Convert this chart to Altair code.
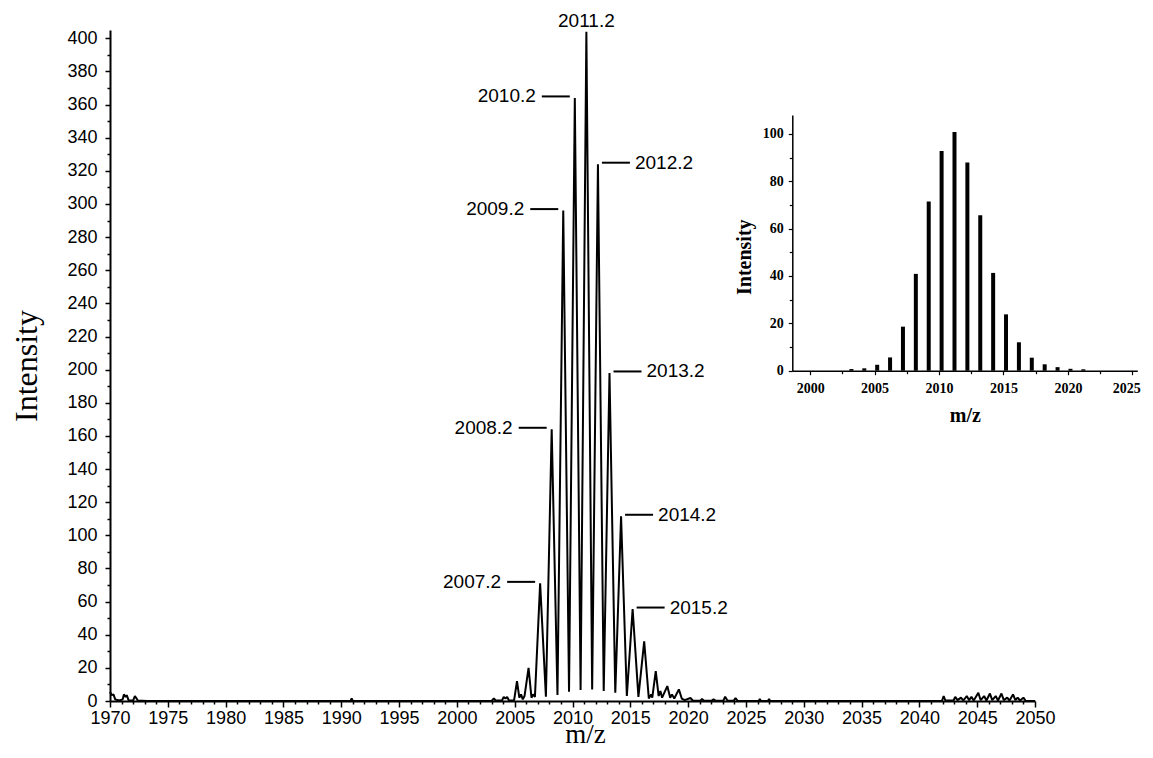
import altair as alt
import pandas as pd

# ---------------- data ----------------
# main spectrum profile (vertices of the trace)
spec_mz = [
    1970.0, 1970.15, 1970.3, 1970.45, 1970.8, 1971.1, 1971.2, 1971.35, 1971.45, 1971.6,
    1972.0, 1972.15, 1972.3, 1972.4, 1973.2, 1990.8, 1990.9, 1991.0,
    2003.0, 2003.2, 2003.35, 2003.9, 2004.05, 2004.2, 2004.35, 2004.5, 2004.95,
    2005.2, 2005.4, 2005.55, 2005.7, 2005.85, 2006.2, 2006.45, 2006.6, 2006.75,
    2007.2, 2007.7, 2008.2, 2008.7, 2009.2, 2009.7, 2010.2, 2010.7, 2011.2, 2011.7,
    2012.2, 2012.7, 2013.2, 2013.7, 2014.2, 2014.7, 2015.2, 2015.7, 2016.2, 2016.6,
    2016.8, 2016.9, 2017.2, 2017.45, 2017.6, 2017.75, 2018.2, 2018.45, 2018.6, 2018.8,
    2019.2, 2019.45, 2019.7, 2020.2, 2020.4, 2021.05, 2021.2, 2021.35, 2022.05, 2022.2,
    2022.35, 2023.05, 2023.2, 2023.4, 2023.95, 2024.1, 2024.3, 2026.1, 2026.2, 2026.3,
    2026.9, 2027.0, 2027.1, 2041.95, 2042.1, 2042.25, 2042.95, 2043.1, 2043.3, 2043.6,
    2043.8, 2044.1, 2044.3, 2044.5, 2044.7, 2045.1, 2045.3, 2045.6, 2045.8, 2046.1,
    2046.3, 2046.6, 2046.8, 2047.1, 2047.3, 2047.6, 2047.8, 2048.1, 2048.3, 2048.5,
    2048.7, 2049.0, 2049.2, 2050.0,
]
spec_int = [
    5.5, 3.5, 4.0, 1.0, 0.3, 1.0, 4.0, 2.5, 3.5, 0.5,
    0.3, 3.0, 1.5, 0.3, 0.0, 0.0, 1.5, 0.0,
    0.0, 1.5, 0.3, 0.3, 2.5, 1.5, 2.5, 0.3, 0.5,
    12.0, 2.0, 4.0, 1.0, 3.0, 20.0, 2.0, 4.0, 2.5,
    71.0, 2.6, 164.0, 3.6, 296.0, 5.6, 364.0, 6.6, 404.0, 7.0,
    324.0, 6.0, 198.0, 5.0, 111.5, 3.0, 55.5, 2.5, 36.0, 1.5,
    4.0, 2.0, 18.0, 3.0, 6.0, 2.0, 9.0, 2.0, 4.0, 1.5,
    7.0, 1.5, 0.5, 1.8, 0.3, 0.2, 1.2, 0.3, 0.2, 1.0,
    0.2, 0.2, 2.6, 0.3, 0.2, 1.8, 0.0, 0.0, 1.2, 0.0,
    0.0, 1.2, 0.0, 0.0, 3.0, 0.3, 0.3, 2.5, 0.5, 2.0,
    0.3, 3.0, 0.5, 2.5, 0.3, 5.0, 0.5, 3.0, 0.3, 4.5,
    0.5, 3.0, 0.3, 4.5, 0.5, 2.0, 0.3, 4.0, 0.5, 2.0,
    0.3, 2.0, 0.0, 0.0,
]

# labelled isotope peaks
peak_mz = [2007.2, 2008.2, 2009.2, 2010.2, 2011.2, 2012.2, 2013.2, 2014.2, 2015.2]
peak_int = [71.0, 164.0, 296.0, 364.0, 404.0, 324.0, 198.0, 111.5, 55.5]
peak_side = ["left", "left", "left", "left", "top", "right", "right", "right", "right"]

# inset: theoretical isotope distribution
inset_mz = [2003.2, 2004.2, 2005.2, 2006.2, 2007.2, 2008.2, 2009.2, 2010.2, 2011.2, 2012.2,
            2013.2, 2014.2, 2015.2, 2016.2, 2017.2, 2018.2, 2019.2, 2020.2, 2021.2]
inset_int = [0.7, 1.0, 2.5, 5.6, 18.6, 40.9, 71.5, 92.8, 100.8, 87.9,
             65.7, 41.3, 23.8, 12.0, 5.5, 2.7, 1.5, 0.8, 0.6]

# axis tick values
x_ticks = list(range(1970, 2051))
y_ticks = list(range(0, 401, 10))
inset_x_ticks = [2000, 2002.5, 2005, 2007.5, 2010, 2012.5, 2015, 2017.5, 2020, 2022.5, 2025]
inset_y_ticks = list(range(0, 101, 10))

# ---------------- tables ----------------
spec = pd.DataFrame({"mz": spec_mz, "intensity": spec_int})
peaks = pd.DataFrame({
    "mz": peak_mz,
    "intensity": peak_int,
    "side": peak_side,
    "label": [f"{m:.1f}" for m in peak_mz],
})
inset = pd.DataFrame({"mz": inset_mz, "intensity": inset_int})

W, H = 925, 671
SANS = "Liberation Sans"
SERIF = "Liberation Serif"

xs = alt.Scale(domain=[1970, 2050], nice=False, zero=False)
ys = alt.Scale(domain=[0, 405], nice=False)

x_axis = alt.Axis(
    values=x_ticks, format="d",
    labelExpr="datum.value % 5 === 0 ? datum.label : ''",
    tickSize={"condition": {"test": "datum.value % 5 === 0", "value": 6}, "value": 3},
    labelFont=SANS, labelFontSize=18, labelColor="black", labelPadding=2,
    labelOverlap=False, labelFlush=False,
    title="m/z", titleFont=SERIF, titleFontSize=27, titleFontWeight="normal",
    titleColor="black", titleBaseline="alphabetic", titleY=41, titleX=475,
    domainColor="black", domainWidth=2, tickColor="black", tickWidth=1.5, grid=False,
)
y_axis = alt.Axis(
    values=y_ticks,
    labelExpr="datum.value % 20 === 0 ? datum.label : ''",
    tickSize={"condition": {"test": "datum.value % 20 === 0", "value": 5}, "value": 3},
    labelFont=SANS, labelFontSize=18, labelColor="black", labelPadding=8,
    labelOverlap=False, labelFlush=False,
    title="Intensity", titleFont=SERIF, titleFontSize=32, titleFontWeight="normal",
    titleColor="black", titleBaseline="alphabetic", titleX=-74,
    domainColor="black", domainWidth=2, tickColor="black", tickWidth=1.5, grid=False,
)

enc = dict(
    x=alt.X("mz:Q", scale=xs, axis=x_axis),
    y=alt.Y("intensity:Q", scale=ys, axis=y_axis),
)

line = alt.Chart(spec).mark_line(color="black", strokeWidth=2, strokeJoin="bevel").encode(**enc)

pk = alt.Chart(peaks)
rule_left = pk.transform_filter("datum.side === 'left'").mark_rule(
    color="black", strokeWidth=2, xOffset=-33, x2Offset=-5, yOffset=-1.5
).encode(x2="mz:Q", **enc)
rule_right = pk.transform_filter("datum.side === 'right'").mark_rule(
    color="black", strokeWidth=2, xOffset=4, x2Offset=32, yOffset=-1.5
).encode(x2="mz:Q", **enc)
text_left = pk.transform_filter("datum.side === 'left'").mark_text(
    align="right", baseline="middle", dx=-39, dy=-1.5, font=SANS, fontSize=19, color="black"
).encode(text="label:N", **enc)
text_right = pk.transform_filter("datum.side === 'right'").mark_text(
    align="left", baseline="middle", dx=37, dy=-1.5, font=SANS, fontSize=19, color="black"
).encode(text="label:N", **enc)
text_top = pk.transform_filter("datum.side === 'top'").mark_text(
    align="center", baseline="middle", dy=-11, font=SANS, fontSize=19, color="black"
).encode(text="label:N", **enc)

main = alt.layer(line, rule_left, rule_right, text_left, text_right, text_top)

# ---------------- inset ----------------
ixs = alt.Scale(domain=[1999, 2025], range=[682.3, 1027.3], nice=False, zero=False)
iys = alt.Scale(domain=[0, 108], range=[340.7, 85], nice=False)

ix_axis = alt.Axis(
    orient="bottom", offset=-330.3, values=inset_x_ticks, format="d",
    labelExpr="datum.value % 5 === 0 ? datum.label : ''",
    labelOffset={"condition": {"test": "datum.value === 2025", "value": -6}, "value": 0},
    tickSize={"condition": {"test": "datum.value % 5 === 0", "value": 4}, "value": 3},
    labelFont=SERIF, labelFontSize=14, labelFontWeight="bold", labelColor="black",
    labelPadding=7, labelOverlap=False, labelFlush=False,
    title="m/z", titleFont=SERIF, titleFontSize=20, titleFontWeight="bold",
    titleColor="black", titleBaseline="alphabetic", titleY=51,
    domainColor="black", domainWidth=1.5, tickColor="black", tickWidth=1.2, grid=False,
)
iy_axis = alt.Axis(
    orient="left", offset=-682.3, values=inset_y_ticks,
    labelExpr="datum.value % 20 === 0 ? datum.label : ''",
    tickSize={"condition": {"test": "datum.value % 20 === 0", "value": 4}, "value": 3},
    labelFont=SERIF, labelFontSize=14, labelFontWeight="bold", labelColor="black",
    labelPadding=5, labelOverlap=False, labelFlush=False,
    title="Intensity", titleFont=SERIF, titleFontSize=20, titleFontWeight="bold",
    titleColor="black", titleBaseline="alphabetic", titleX=-42, titleY=226.7,
    domainColor="black", domainWidth=1.5, tickColor="black", tickWidth=1.2, grid=False,
)

inset_bars = alt.Chart(inset).mark_bar(color="black", size=4).encode(
    x=alt.X("mz:Q", scale=ixs, axis=ix_axis),
    y=alt.Y("intensity:Q", scale=iys, axis=iy_axis),
)

chart = alt.layer(main, inset_bars).resolve_scale(
    x="independent", y="independent"
).properties(
    width=W, height=H,
    padding={"left": 102, "top": 22, "right": 110, "bottom": 47},
    autosize=alt.AutoSizeParams(type="none"),
    background="white",
).configure_view(stroke=None)

chart.save("out.html", embed_options={"renderer": "svg", "actions": False})
